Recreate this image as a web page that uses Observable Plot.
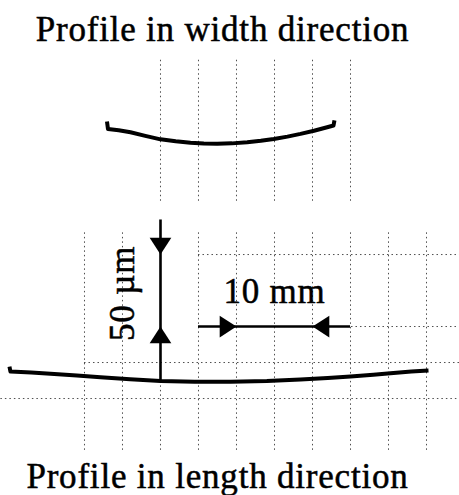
<!DOCTYPE html>
<html>
<head>
<meta charset="utf-8">
<script src="https://cdn.jsdelivr.net/npm/d3@7"></script>
<script src="https://cdn.jsdelivr.net/npm/@observablehq/plot@0.6"></script>
<style>
  html, body { margin: 0; padding: 0; background: #fff; }
  #wrap { position: relative; width: 459px; height: 495px; overflow: hidden; background: #fff; }
  .ttl { position: absolute; left: 0; width: 459px; font-family: "Liberation Serif", "Times New Roman", serif; font-size: 35px; letter-spacing: 0.8px; color: #000; text-align: center; white-space: nowrap; -webkit-text-stroke: 0.5px #000; }
  #top { top: 0; height: 50px; line-height: 50px; padding-top: 5px; box-sizing: border-box; padding-right: 14px; }
  #bottom { top: 450px; height: 45px; line-height: 45px; padding-top: 4px; box-sizing: border-box; padding-right: 24px; }
  #chart { position: absolute; left: 0; top: 50px; }
  #chart svg text { letter-spacing: 0.8px; }
</style>
</head>
<body>
<div id="wrap">
  <div id="top" class="ttl"></div>
  <div id="chart"></div>
  <div id="bottom" class="ttl"></div>
</div>
<script>
// ---- data (x in mm, y in µm) ----
const titleTop = "Profile in width direction";
const titleBottom = "Profile in length direction";

// profile in width direction (upper trace)
const widthX = [-7.04, -6.91, -5.5, -3.95, -2.0, 0.0, 2.0, 3.95, 5.7, 7.46, 9.4, 11.41, 13.2, 14.91, 16.7, 18.42, 20.2, 21.93, 22.76, 22.89];
const widthY = [142.4, 137.2, 136.3, 134.9, 132.4, 130.0, 128.6, 127.6, 127.1, 126.9, 127.2, 128.0, 129.0, 130.3, 131.9, 133.8, 136.0, 138.4, 139.6, 143.1];

// profile in length direction (lower trace)
const lengthX = [-19.87, -19.74, -17.0, -14.47, -11.0, -7.89, -4.0, 0.0, 4.5, 9.21, 14.0, 18.42, 22.0, 25.0, 28.0, 30.26, 33.0, 35.26];
const lengthY = [-27.8, -31.3, -32.0, -32.8, -34.0, -35.2, -36.6, -37.8, -38.3, -38.4, -37.9, -36.8, -35.7, -34.7, -33.5, -32.4, -31.3, -30.6];

// chart grid (mm / µm)
const gridTopX = [0, 5, 10, 15, 20, 25];
const gridTopSpan = [87, 185];
const gridLowX = [-10, -5, 0, 5, 10, 15, 20, 25, 30, 35];
const gridLowSpan = [-86, 66];
const gridY = [50, 0, -25, -50];
const gridYStart = [5, 5, -10, -21];

// scale bars
const barV = {x: 0, top: 74, bottom: -37.8};       // 50 µm bar
const barH = {y: 0, left: 5, right: 25};            // 10 mm bar
const arrowX = [0, 0, 10, 20];
const arrowY = [50, 0, 0, 0];
const arrowDir = ["down", "up", "right", "left"];

const labelText = ["10 mm", "50 µm"];
const labelX = [15, -5];
const labelY = [24, 23];
const labelRotate = [0, -90];

// ---- build ----
const widthData = widthX.map((x, i) => ({x, y: widthY[i]}));
const lengthData = lengthX.map((x, i) => ({x, y: lengthY[i]}));
const hGrid = gridY.map((y, i) => ({y, x1: gridYStart[i], x2: 39.4}));
const arrows = arrowX.map((x, i) => ({x, y: arrowY[i], dir: arrowDir[i]}));
const labels = labelText.map((t, i) => ({t, x: labelX[i], y: labelY[i], r: labelRotate[i]}));

function arrowSymbol(dir) {
  return {
    draw(ctx, size) {
      const r = Math.sqrt(size / Math.PI);
      const h = 2.4 * r, w = 1.55 * r;
      let pts;
      if (dir === "up") pts = [[0, 0], [-w, h], [w, h]];
      else if (dir === "down") pts = [[0, 0], [-w, -h], [w, -h]];
      else if (dir === "right") pts = [[0, 0], [-h, -w], [-h, w]];
      else pts = [[0, 0], [h, -w], [h, w]];
      ctx.moveTo(pts[0][0], pts[0][1]);
      ctx.lineTo(pts[1][0], pts[1][1]);
      ctx.lineTo(pts[2][0], pts[2][1]);
      ctx.closePath();
    }
  };
}

const gridStyle = {stroke: "#222", strokeWidth: 1, strokeDasharray: "1.5,3", strokeOpacity: 0.8};
const font = "'Liberation Serif', 'Times New Roman', serif";
const textStyle = {fontSize: 35, fontFamily: font, fill: "#000", stroke: "#000", strokeWidth: 0.5};

const plot = Plot.plot({
  width: 459,
  height: 400,
  margin: 0,
  x: {domain: [-21.05, 39.34], axis: null},
  y: {domain: [-86.1, 191.7], axis: null},
  marks: [
    Plot.ruleX(gridTopX, {x: d => d, y1: gridTopSpan[0], y2: gridTopSpan[1], ...gridStyle}),
    Plot.ruleX(gridLowX, {x: d => d, y1: gridLowSpan[0], y2: gridLowSpan[1], ...gridStyle}),
    Plot.ruleY(hGrid, {y: "y", x1: "x1", x2: "x2", ...gridStyle}),
    Plot.ruleX([barV], {x: "x", y1: "top", y2: "bottom", stroke: "#000", strokeWidth: 2.6}),
    Plot.ruleY([barH], {y: "y", x1: "left", x2: "right", stroke: "#000", strokeWidth: 2.6}),
    ...arrows.map(a => Plot.dot([a], {x: "x", y: "y", r: 7, symbol: arrowSymbol(a.dir), fill: "#000", stroke: "none"})),
    Plot.line(widthData, {x: "x", y: "y", stroke: "#000", strokeWidth: 4, curve: "linear", strokeLinejoin: "round", strokeLinecap: "butt"}),
    Plot.line(lengthData, {x: "x", y: "y", stroke: "#000", strokeWidth: 4, curve: "linear", strokeLinejoin: "round", strokeLinecap: "butt"}),
    Plot.text(labels.filter(d => d.r === 0), {x: "x", y: "y", text: "t", ...textStyle}),
    Plot.text(labels.filter(d => d.r !== 0), {x: "x", y: "y", text: "t", rotate: -90, ...textStyle})
  ]
});

document.getElementById("chart").appendChild(plot);
document.getElementById("top").textContent = titleTop;
document.getElementById("bottom").textContent = titleBottom;
</script>
</body>
</html>
